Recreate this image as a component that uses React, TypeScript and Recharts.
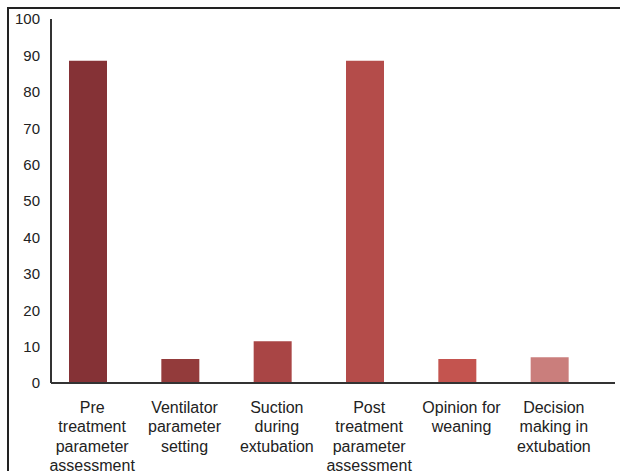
import { BarChart, Bar, XAxis, YAxis, Cell } from "recharts";

// categories, split into the lines shown under each bar
const categories = [
  "Pre treatment parameter assessment",
  "Ventilator parameter setting",
  "Suction during extubation",
  "Post treatment parameter assessment",
  "Opinion for weaning",
  "Decision making in extubation",
];
const labelLines = [
  ["Pre", "treatment", "parameter", "assessment"],
  ["Ventilator", "parameter", "setting"],
  ["Suction", "during", "extubation"],
  ["Post", "treatment", "parameter", "assessment"],
  ["Opinion for", "weaning"],
  ["Decision", "making in", "extubation"],
];
const values = [88.5, 6.6, 11.5, 88.5, 6.6, 7.1];
const barColors = ["#853236", "#933B3B", "#A94545", "#B44C4A", "#C4544F", "#CA7E7C"];
const yTicks = [0, 10, 20, 30, 40, 50, 60, 70, 80, 90, 100];

const data = categories.map((name, i) => ({
  name,
  lines: labelLines[i],
  value: values[i],
}));

const FONT = "'Liberation Sans', Arial, sans-serif";

function CategoryTick({ x, y, index }: any) {
  const lines = labelLines[index] || [];
  return (
    <text x={x + 4} y={y} textAnchor="middle" fill="#222" fontSize={16} fontFamily={FONT}>
      {lines.map((line, i) => (
        <tspan key={i} x={x + 4} dy={i === 0 ? 30 : 19.3}>
          {line}
        </tspan>
      ))}
    </text>
  );
}

export default function App() {
  return (
    <div style={{ position: "absolute", left: 0, top: 0, width: 620, height: 471, background: "#fff" }}>
      <div
        style={{
          position: "absolute",
          left: 7,
          top: 7,
          width: 613,
          height: 464,
          borderTop: "2px solid #222",
          borderLeft: "2px solid #222",
          boxSizing: "border-box",
        }}
      />
      <div style={{ position: "absolute", left: 0, top: 0 }}>
        <BarChart
          width={620}
          height={471}
          data={data}
          margin={{ top: 19, right: 5, left: 0, bottom: 0 }}
        >
          <XAxis
            dataKey="name"
            interval={0}
            height={88}
            tickLine={false}
            tickSize={0}
            tickMargin={0}
            axisLine={{ stroke: "#333", strokeWidth: 2 }}
            padding={{ left: -9, right: 19 }}
            tick={<CategoryTick />}
          />
          <YAxis
            width={51}
            domain={[0, 100]}
            ticks={yTicks}
            interval={0}
            tickLine={false}
            tickSize={6}
            tickMargin={5}
            axisLine={{ stroke: "#333", strokeWidth: 2 }}
            tick={{ fill: "#222", fontSize: 15, fontFamily: FONT }}
          />
          <Bar dataKey="value" barSize={38} isAnimationActive={false}>
            {data.map((d, i) => (
              <Cell key={d.name} fill={barColors[i]} />
            ))}
          </Bar>
        </BarChart>
      </div>
    </div>
  );
}
